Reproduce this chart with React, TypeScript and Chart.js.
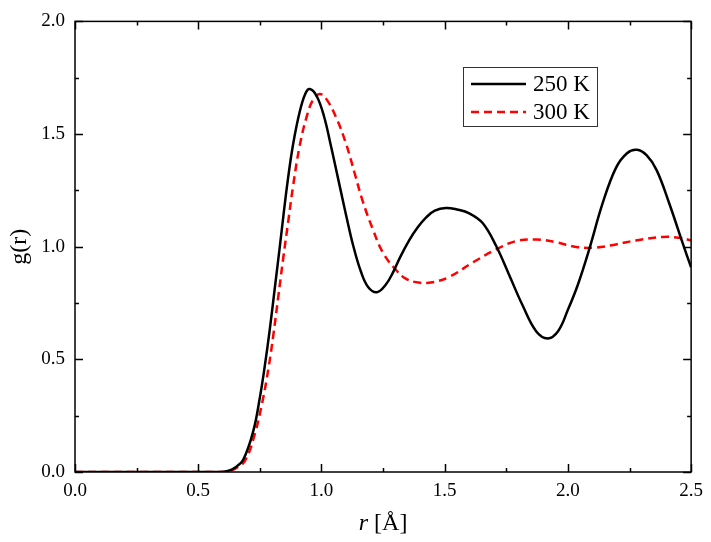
import { useEffect, useRef } from "react";
import { Chart, registerables } from "chart.js";

Chart.register(...registerables);

// ---- data ----
const seriesLabels = ["250 K", "300 K"];
const r250 = [0, 0.3, 0.5, 0.58, 0.62, 0.65, 0.682, 0.723, 0.75, 0.77, 0.79, 0.81, 0.831, 0.847, 0.864, 0.885, 0.912, 0.935, 0.952, 0.98, 1.01, 1.04, 1.07, 1.1, 1.13, 1.16, 1.19, 1.225, 1.26, 1.29, 1.32, 1.357, 1.39, 1.425, 1.46, 1.505, 1.55, 1.6, 1.654, 1.709, 1.763, 1.816, 1.871, 1.918, 1.96, 2.0, 2.04, 2.087, 2.141, 2.195, 2.24, 2.28, 2.32, 2.36, 2.411, 2.465, 2.5];
const g250 = [0, 0, 0, 0, 0.005, 0.02, 0.053, 0.18, 0.33, 0.47, 0.63, 0.81, 1.0, 1.15, 1.3, 1.455, 1.6, 1.68, 1.70, 1.67, 1.58, 1.44, 1.29, 1.14, 1.0, 0.89, 0.82, 0.798, 0.83, 0.885, 0.955, 1.03, 1.085, 1.13, 1.16, 1.172, 1.165, 1.148, 1.105, 1.003, 0.871, 0.74, 0.625, 0.593, 0.625, 0.72, 0.83, 0.99, 1.193, 1.35, 1.415, 1.43, 1.405, 1.34, 1.193, 1.018, 0.908];
const r300 = [0, 0.3, 0.5, 0.58, 0.62, 0.65, 0.69, 0.73, 0.76, 0.785, 0.805, 0.825, 0.845, 0.865, 0.885, 0.912, 0.939, 0.965, 0.993, 1.02, 1.06, 1.1, 1.135, 1.168, 1.209, 1.249, 1.3, 1.344, 1.4, 1.45, 1.519, 1.614, 1.709, 1.79, 1.871, 1.952, 2.033, 2.114, 2.195, 2.276, 2.384, 2.451, 2.5];
const g300 = [0, 0, 0, 0, 0.003, 0.015, 0.05, 0.17, 0.31, 0.46, 0.61, 0.78, 0.95, 1.11, 1.27, 1.45, 1.573, 1.65, 1.678, 1.655, 1.573, 1.456, 1.325, 1.2, 1.076, 0.974, 0.9, 0.857, 0.84, 0.842, 0.866, 0.93, 0.988, 1.025, 1.032, 1.02, 0.999, 0.996, 1.01, 1.028, 1.043, 1.04, 1.028];
const xTicks = [0, 0.5, 1.0, 1.5, 2.0, 2.5];
const yTicks = [0, 0.5, 1.0, 1.5, 2.0];
const xMinorStep = 0.25;
const yMinorStep = 0.25;

const SERIF = "'Liberation Serif', 'Times New Roman', serif";

const framePlugin = {
  id: "frameAndTicks",
  afterDatasetsDraw(chart: any) {
    const { ctx, chartArea: a, scales } = chart;
    const xs = scales.x;
    const ys = scales.y;
    ctx.save();
    ctx.strokeStyle = "#000";
    ctx.lineWidth = 1.5;
    ctx.strokeRect(a.left, a.top, a.right - a.left, a.bottom - a.top);
    const major = 8;
    const minor = 4;
    const xmin = xTicks[0], xmax = xTicks[xTicks.length - 1];
    for (let v = xmin; v <= xmax + 1e-9; v += xMinorStep) {
      const isMajor = xTicks.some((t) => Math.abs(t - v) < 1e-9);
      const len = isMajor ? major : minor;
      const px = Math.round(xs.getPixelForValue(v)) + 0.5;
      ctx.beginPath();
      ctx.moveTo(px, a.bottom);
      ctx.lineTo(px, a.bottom - len);
      ctx.moveTo(px, a.top);
      ctx.lineTo(px, a.top + len);
      ctx.stroke();
    }
    const ymin = yTicks[0], ymax = yTicks[yTicks.length - 1];
    for (let v = ymin; v <= ymax + 1e-9; v += yMinorStep) {
      const isMajor = yTicks.some((t) => Math.abs(t - v) < 1e-9);
      const len = isMajor ? major : minor;
      const py = Math.round(ys.getPixelForValue(v)) + 0.5;
      ctx.beginPath();
      ctx.moveTo(a.left, py);
      ctx.lineTo(a.left + len, py);
      ctx.moveTo(a.right, py);
      ctx.lineTo(a.right - len, py);
      ctx.stroke();
    }

    // axis titles
    ctx.fillStyle = "#000";
    ctx.textBaseline = "alphabetic";
    const cx = (a.left + a.right) / 2;
    ctx.font = `italic 24px ${SERIF}`;
    const w1 = ctx.measureText("r").width;
    ctx.font = `24px ${SERIF}`;
    const rest = " [Å]";
    const w2 = ctx.measureText(rest).width;
    const startX = cx - (w1 + w2) / 2;
    ctx.font = `italic 24px ${SERIF}`;
    ctx.textAlign = "left";
    ctx.fillText("r", startX, 530);
    ctx.font = `24px ${SERIF}`;
    ctx.fillText(rest, startX + w1, 530);

    ctx.save();
    ctx.translate(26, (a.top + a.bottom) / 2);
    ctx.rotate(-Math.PI / 2);
    ctx.textAlign = "center";
    ctx.font = `24px ${SERIF}`;
    ctx.fillText("g(r)", 0, 0);
    ctx.restore();

    // legend
    const lx = 463, ly = 67, lw = 134, lh = 59;
    ctx.fillStyle = "#fff";
    ctx.fillRect(lx, ly, lw, lh);
    ctx.strokeStyle = "#333";
    ctx.lineWidth = 1;
    ctx.strokeRect(lx + 0.5, ly + 0.5, lw, lh);
    const rows = [84, 112];
    chart.data.datasets.forEach((ds: any, i: number) => {
      const y = rows[i];
      ctx.beginPath();
      ctx.strokeStyle = ds.borderColor;
      ctx.lineWidth = ds.borderWidth;
      ctx.setLineDash(ds.borderDash || []);
      ctx.moveTo(471, y);
      ctx.lineTo(526, y);
      ctx.stroke();
      ctx.setLineDash([]);
      ctx.fillStyle = "#000";
      ctx.font = `23px ${SERIF}`;
      ctx.textAlign = "left";
      ctx.textBaseline = "middle";
      ctx.fillText(ds.label, 533, y + 1);
    });
    ctx.restore();
  },
};

export default function App() {
  const ref = useRef<HTMLCanvasElement | null>(null);
  useEffect(() => {
    if (!ref.current) return;
    const chart = new Chart(ref.current, {
      type: "scatter",
      data: {
        datasets: [
          {
            label: seriesLabels[0],
            data: r250.map((x, i) => ({ x, y: g250[i] })),
            showLine: true,
            borderColor: "#000000",
            borderWidth: 2.5,
            pointRadius: 0,
            tension: 0.4,
            fill: false,
          },
          {
            label: seriesLabels[1],
            data: r300.map((x, i) => ({ x, y: g300[i] })),
            showLine: true,
            borderColor: "#ff0000",
            borderWidth: 2.5,
            borderDash: [8, 5],
            pointRadius: 0,
            tension: 0.4,
            fill: false,
          },
        ],
      },
      options: {
        animation: false,
        responsive: true,
        maintainAspectRatio: false,
        layout: { padding: { top: 16, right: 19, left: 0, bottom: 0 } },
        plugins: { legend: { display: false }, tooltip: { enabled: false } },
        elements: { line: { capBezierPoints: true } },
        scales: {
          x: {
            type: "linear",
            min: xTicks[0],
            max: xTicks[xTicks.length - 1],
            afterBuildTicks: (s: any) => {
              s.ticks = xTicks.map((v) => ({ value: v }));
            },
            afterFit: (s: any) => {
              s.height = 70;
            },
            grid: { display: false, drawTicks: false },
            border: { display: false },
            ticks: {
              padding: 8,
              color: "#000",
              font: { family: SERIF, size: 19 },
              maxRotation: 0,
              callback: (v: any) => Number(v).toFixed(1),
            },
          },
          y: {
            type: "linear",
            min: yTicks[0],
            max: yTicks[yTicks.length - 1],
            afterBuildTicks: (s: any) => {
              s.ticks = yTicks.map((v) => ({ value: v }));
            },
            afterFit: (s: any) => {
              s.width = 75;
            },
            grid: { display: false, drawTicks: false },
            border: { display: false },
            ticks: {
              padding: 10,
              color: "#000",
              font: { family: SERIF, size: 19 },
              callback: (v: any) => Number(v).toFixed(1),
            },
          },
        },
      },
      plugins: [framePlugin],
    } as any);
    return () => chart.destroy();
  }, []);
  return (
    <div style={{ position: "absolute", left: 0, top: 0, width: 711, height: 542, background: "#fff" }}>
      <canvas ref={ref} />
    </div>
  );
}
